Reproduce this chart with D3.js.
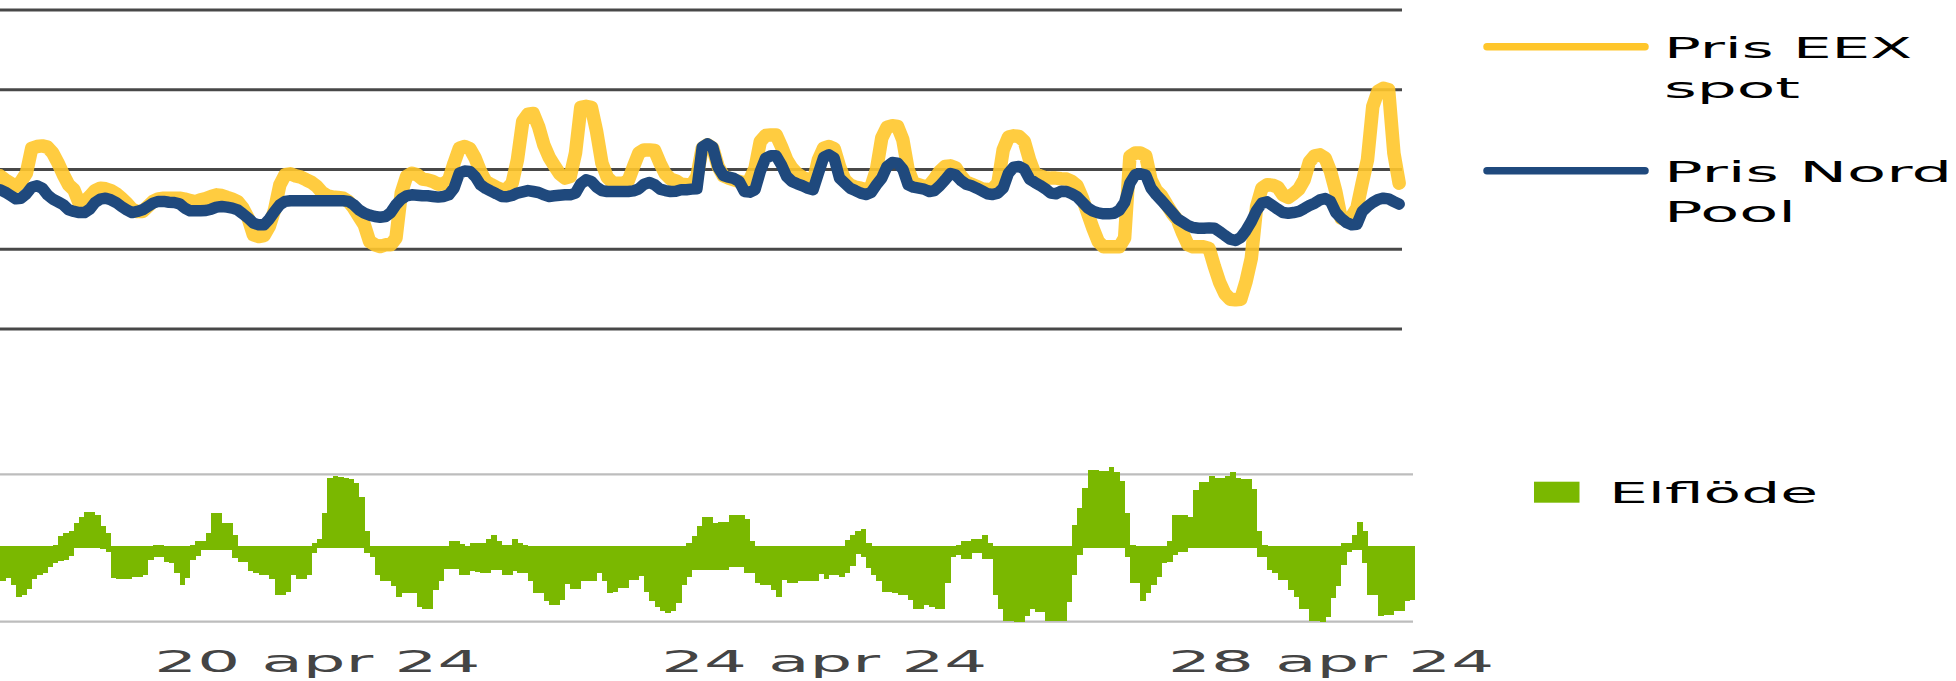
<!DOCTYPE html>
<html>
<head>
<meta charset="utf-8">
<script src="https://cdn.jsdelivr.net/npm/d3@7"></script>
<style>
  body { margin: 0; background: #fff; }
  text { font-family: "DejaVu Sans", Verdana, sans-serif; }
</style>
</head>
<body>
<svg width="1956" height="681"></svg>
<script>
// hourly series, starting 18 apr 2024 00:00
// EEX spot price (EUR/MWh)
var eex = [
  46.0,43.5,41.4,39.4,42.5,47.7,63.2,64.4,64.8,64.0,
  60.3,54.0,46.7,40.4,37.3,28.9,30.0,33.1,36.8,38.3,
  37.9,36.8,34.8,32.0,28.9,25.1,23.7,23.7,26.8,30.0,
  31.6,32.0,32.0,32.0,32.0,31.4,30.6,29.7,31.0,31.8,
  33.1,34.1,33.7,32.5,31.4,29.9,25.8,19.5,9.0,8.0,
  8.6,14.3,24.7,40.4,46.7,47.3,46.0,45.2,43.5,41.9,
  39.4,35.6,33.5,32.7,32.5,32.0,29.9,25.8,20.5,15.3,
  4.9,2.8,1.7,2.8,2.8,7.0,35.2,45.6,47.7,46.7,
  44.0,43.5,42.5,40.8,41.0,43.5,54.0,63.4,64.4,63.0,
  57.1,48.8,42.5,40.6,38.9,37.3,37.7,41.4,56.1,80.1,
  84.7,85.1,77.0,65.5,57.7,52.3,47.3,44.6,45.6,60.3,
  89.0,89.6,89.0,73.8,54.0,45.2,41.9,41.4,41.4,43.1,
  51.9,60.3,62.3,62.3,61.9,54.0,47.3,44.0,42.9,40.8,
  40.4,40.4,45.6,63.4,65.5,63.4,51.9,46.0,44.6,43.5,
  42.5,41.4,43.5,50.8,67.6,71.3,71.7,71.7,64.4,56.1,
  50.8,47.3,45.2,43.5,41.9,56.1,63.4,64.4,63.0,51.9,
  43.5,40.4,38.9,38.3,37.3,39.4,49.8,69.7,76.5,77.4,
  77.0,68.6,49.8,41.4,40.4,39.4,40.0,44.0,48.8,51.9,
  52.3,51.1,46.0,42.1,40.8,39.4,37.9,37.3,37.9,41.4,
  62.3,70.3,71.1,70.7,67.6,56.1,47.3,46.0,44.8,44.6,
  44.6,44.2,44.0,42.5,39.8,32.0,22.6,13.2,4.9,1.5,
  1.5,1.5,1.5,7.0,58.2,60.3,60.3,58.6,43.5,36.8,
  33.5,27.9,22.6,18.4,10.1,2.8,1.5,1.5,1.5,0.5,
  -10.8,-20.8,-27.9,-31.3,-31.7,-31.3,-20.2,-5.6,26.8,38.3,
  40.4,40.2,38.9,34.1,32.5,34.8,37.7,43.5,54.8,58.6,
  59.2,57.1,48.8,36.2,19.5,18.4,20.5,25.8,41.4,56.1,
  89.5,99,101,100,60.3,41.4
];

// Nord Pool price (EUR/MWh)
var nordPool = [
  37.3,35.8,33.7,31.6,32.0,34.8,38.9,39.8,38.3,34.1,
  31.4,29.7,27.9,24.7,23.7,23.0,23.0,25.1,29.3,31.4,
  32.0,31.0,29.3,26.8,24.7,23.0,23.7,24.7,26.8,28.9,
  30.0,30.0,29.5,29.3,28.5,25.8,24.1,24.1,24.1,24.3,
  25.1,26.4,26.8,26.4,25.8,24.7,22.2,19.5,16.4,15.3,
  15.3,18.9,23.7,27.9,30.0,30.4,30.4,30.4,30.4,30.4,
  30.4,30.4,30.4,30.4,30.4,30.4,30.0,27.9,24.7,22.6,
  21.4,20.5,20.1,20.5,23.0,27.9,31.4,33.5,34.1,33.9,
  33.5,33.5,33.1,32.7,33.1,34.1,38.3,47.7,49.0,48.8,
  45.6,40.4,38.1,36.4,34.8,33.1,32.9,33.7,35.2,36.0,
  36.8,36.2,35.6,34.1,33.1,33.5,33.9,34.1,34.1,35.2,
  41.0,43.5,42.5,38.9,36.8,36.2,36.2,36.2,36.2,36.2,
  36.6,37.9,40.8,41.9,40.4,37.7,36.8,36.2,36.4,37.3,
  37.3,37.7,37.9,64.0,66.1,64.0,51.5,46.2,45.2,44.4,
  42.5,36.2,35.8,37.3,48.8,57.1,58.6,58.6,52.9,45.6,
  42.5,41.0,39.8,38.3,37.3,47.7,57.7,59.2,57.1,44.6,
  41.4,38.3,36.8,35.2,34.3,35.6,40.4,44.6,51.9,54.4,
  54.0,50.2,40.4,38.9,38.3,37.7,36.2,36.8,39.8,43.5,
  47.5,46.5,43.1,40.8,39.8,38.3,36.6,34.8,34.3,35.2,
  38.3,47.7,51.5,51.9,50.2,44.0,41.9,40.0,37.9,35.2,
  34.8,36.4,36.2,34.8,32.9,29.5,26.0,23.9,22.8,22.2,
  22.2,22.6,24.5,29.3,41.4,46.7,47.3,46.5,38.3,34.1,
  30.6,26.8,23.0,19.1,17.0,14.9,13.6,13.2,13.2,13.4,
  13.2,11.1,8.6,6.3,5.5,7.4,11.8,17.4,24.3,28.9,
  29.7,27.4,25.1,23.0,22.6,23.0,23.7,25.5,27.4,28.9,
  31.0,31.8,30.0,23.0,19.5,16.8,15.3,15.7,23.7,26.8,
  29.3,31.2,32.0,31.6,29.9,28.3
];

// power flow (MW), export part and import part of each hour
var flowPos = [
  0,0,0,0,0,0,0,0,0,0,
  40,270,360,430,640,800,960,960,870,550,
  360,0,0,0,0,0,0,0,0,40,
  40,0,0,0,0,0,40,150,150,360,
  910,910,640,640,310,0,0,0,0,0,
  0,0,0,0,0,0,0,0,0,90,
  200,910,1900,1950,1930,1900,1870,1750,1360,430,
  0,0,0,0,0,0,0,0,0,0,
  0,0,0,0,0,150,150,60,0,80,
  80,90,200,310,150,40,40,200,90,40,
  0,0,0,0,0,0,0,0,0,0,
  0,0,0,0,0,0,0,0,0,0,
  0,0,0,0,0,0,0,0,0,0,
  90,280,550,800,800,640,670,670,870,870,
  870,750,150,0,0,0,0,0,0,0,
  0,0,0,0,0,0,0,0,0,0,
  180,310,430,480,100,0,0,0,0,0,
  0,0,0,0,0,0,0,0,0,0,
  0,40,150,150,200,200,310,80,0,0,
  0,0,0,0,0,0,0,0,0,0,
  0,0,0,590,1070,1630,2120,2120,2090,2090,
  2210,2070,1810,910,40,0,0,0,0,0,
  0,150,870,870,870,800,1560,1790,1790,1950,
  1900,1900,1950,2070,1910,1880,1880,1590,430,40,
  0,0,0,0,0,0,0,0,0,0,
  0,0,0,0,80,80,310,680,430,0,
  0,0,0,0,0,0,0,0
];

var flowNeg = [
  -980,-890,-1090,-1410,-1370,-1190,-920,-790,-740,-590,
  -480,-420,-380,-280,-60,-50,-50,-50,-50,-70,
  -150,-890,-910,-910,-910,-860,-860,-790,-380,-310,
  -310,-430,-480,-750,-1070,-890,-380,-260,-100,-100,
  -100,-100,-100,-100,-330,-430,-430,-700,-750,-790,
  -790,-910,-1350,-1350,-1260,-790,-910,-910,-790,-190,
  -60,-60,-60,-60,-60,-60,-60,-60,-60,-180,
  -310,-790,-980,-980,-1120,-1400,-1300,-1300,-1300,-1700,
  -1740,-1740,-1210,-980,-630,-630,-630,-790,-790,-700,
  -720,-750,-750,-660,-660,-790,-790,-700,-750,-750,
  -970,-1300,-1300,-1520,-1630,-1630,-1490,-1050,-1190,-1190,
  -980,-980,-980,-750,-980,-1300,-1260,-1150,-1150,-930,
  -930,-840,-1260,-1530,-1700,-1790,-1860,-1790,-1580,-1070,
  -870,-660,-660,-660,-660,-660,-660,-660,-590,-590,
  -590,-750,-750,-1030,-1070,-1070,-1210,-1420,-930,-1030,
  -1030,-980,-980,-980,-980,-780,-910,-790,-790,-870,
  -740,-540,-220,-310,-610,-790,-980,-1260,-1260,-1300,
  -1350,-1350,-1490,-1740,-1740,-1630,-1700,-1740,-1740,-1030,
  -310,-240,-360,-360,-190,-190,-360,-360,-1350,-1740,
  -2070,-2070,-2120,-2120,-1950,-1760,-1830,-1830,-2090,-2090,
  -2090,-2090,-1550,-810,-240,-60,-60,-60,-60,-60,
  -60,-60,-60,-290,-1030,-1030,-1520,-1300,-1090,-870,
  -470,-430,-240,-150,-150,-60,-60,-60,-60,-60,
  -60,-60,-60,-60,-60,-60,-60,-60,-310,-310,
  -660,-750,-930,-930,-1210,-1420,-1740,-1740,-2070,-2070,
  -2110,-1980,-1440,-1120,-520,-150,-100,-100,-460,-1350,
  -1350,-1950,-1920,-1920,-1810,-1810,-1530,-1490
];

var priceGrid = [-50, 0, 50, 100, 150];
var flowGrid = [-2100, 2000];

var tickDates = [Date.UTC(2024, 3, 20, 12), Date.UTC(2024, 3, 24, 12), Date.UTC(2024, 3, 28, 12)];
var tickLabels = ["20 apr 24", "24 apr 24", "28 apr 24"];

var legendLines = ["Pris EEX", "spot", "Pris Nord", "Pool"];

/**
 * svg set up
 */
var svg = d3.select("svg"),
    width = +svg.attr("width"),
    height = +svg.attr("height");

svg.append("rect").attr("width", width).attr("height", height).attr("fill", "#fff");

var yellow = "#ffc62b",
    blue = "#1f497d",
    green = "#7ab800";

var start = Date.UTC(2024, 3, 18, 0),
    hour = 3600 * 1000;
function t(i) { return new Date(start + i * hour); }

var x = d3.scaleUtc()
    .domain([t(0), t(flowPos.length)])
    .range([0, 1415]);

var yPrice = d3.scaleLinear().domain([-50, 150]).range([329, 10]);
var yFlow = d3.scaleLinear().domain([-2100, 2000]).range([621.7, 474.3]);

// grid lines
svg.append("g")
  .selectAll("line")
  .data(priceGrid)
  .enter().append("line")
    .attr("x1", 0).attr("x2", 1402)
    .attr("y1", function(d) { return yPrice(d); })
    .attr("y2", function(d) { return yPrice(d); })
    .attr("stroke", "#484848")
    .attr("stroke-width", 3);

svg.append("g")
  .selectAll("line")
  .data(flowGrid)
  .enter().append("line")
    .attr("x1", 0).attr("x2", 1413)
    .attr("y1", function(d) { return yFlow(d); })
    .attr("y2", function(d) { return yFlow(d); })
    .attr("stroke", "#bdbdbd")
    .attr("stroke-width", 2.2);

// flow bars
var bars = svg.append("g").attr("fill", green).attr("shape-rendering", "crispEdges");

function barW(i) { return x(t(i + 1)) - x(t(i)) + 0.4; }

bars.selectAll("rect.pos")
  .data(flowPos)
  .enter().append("rect")
    .attr("class", "pos")
    .attr("x", function(d, i) { return x(t(i)); })
    .attr("width", function(d, i) { return barW(i); })
    .attr("y", function(d) { return yFlow(d); })
    .attr("height", function(d) { return yFlow(0) - yFlow(d); });

bars.selectAll("rect.neg")
  .data(flowNeg)
  .enter().append("rect")
    .attr("class", "neg")
    .attr("x", function(d, i) { return x(t(i)); })
    .attr("width", function(d, i) { return barW(i); })
    .attr("y", yFlow(0))
    .attr("height", function(d) { return yFlow(d) - yFlow(0); });

// price lines
var line = d3.line()
    .x(function(d, i) { return x(t(i)); })
    .y(function(d) { return yPrice(d); });

svg.append("path")
    .datum(eex)
    .attr("d", line)
    .attr("fill", "none")
    .attr("stroke", yellow)
    .attr("stroke-opacity", 0.9)
    .attr("stroke-width", 13.5)
    .attr("stroke-linejoin", "round")
    .attr("stroke-linecap", "round");

svg.append("path")
    .datum(nordPool)
    .attr("d", line)
    .attr("fill", "none")
    .attr("stroke", blue)
    .attr("stroke-width", 11.5)
    .attr("stroke-linejoin", "round")
    .attr("stroke-linecap", "round");

// x axis
var xAxis = d3.axisBottom(x)
    .tickValues(tickDates.map(function(d) { return new Date(d); }))
    .tickFormat(function(d, i) { return tickLabels[i]; })
    .tickSize(0)
    .tickPadding(0);

var gx = svg.append("g")
    .attr("transform", "translate(0,650)")
    .call(xAxis);
gx.select(".domain").remove();
gx.selectAll("text")
    .attr("font-family", "DejaVu Sans, sans-serif")
    .attr("font-size", 31)
    .attr("fill", "#444")
    .attr("textLength", 326)
    .attr("lengthAdjust", "spacingAndGlyphs");

// legend
var leg = svg.append("g");

leg.append("line")
    .attr("x1", 1487).attr("x2", 1645).attr("y1", 46.7).attr("y2", 46.7)
    .attr("stroke", yellow).attr("stroke-width", 7.5).attr("stroke-linecap", "round");
leg.append("line")
    .attr("x1", 1487).attr("x2", 1645).attr("y1", 170.7).attr("y2", 170.7)
    .attr("stroke", blue).attr("stroke-width", 7.5).attr("stroke-linecap", "round");

var legY = [58.3, 98.3, 181.7, 221.7],
    legW = [248, 136, 288, 132];

leg.selectAll("text.l")
  .data(legendLines)
  .enter().append("text")
    .attr("class", "l")
    .attr("x", 1664)
    .attr("y", function(d, i) { return legY[i]; })
    .attr("font-size", 29)
    .attr("fill", "#000")
    .attr("textLength", function(d, i) { return legW[i]; })
    .attr("lengthAdjust", "spacingAndGlyphs")
    .text(function(d) { return d; });

leg.append("rect")
    .attr("x", 1534).attr("y", 481.7).attr("width", 45.5).attr("height", 21)
    .attr("fill", green);
leg.append("text")
    .attr("x", 1609).attr("y", 503.3)
    .attr("font-size", 28.5)
    .attr("fill", "#000")
    .attr("textLength", 209)
    .attr("lengthAdjust", "spacingAndGlyphs")
    .text("Elflöde");
</script>
</body>
</html>
